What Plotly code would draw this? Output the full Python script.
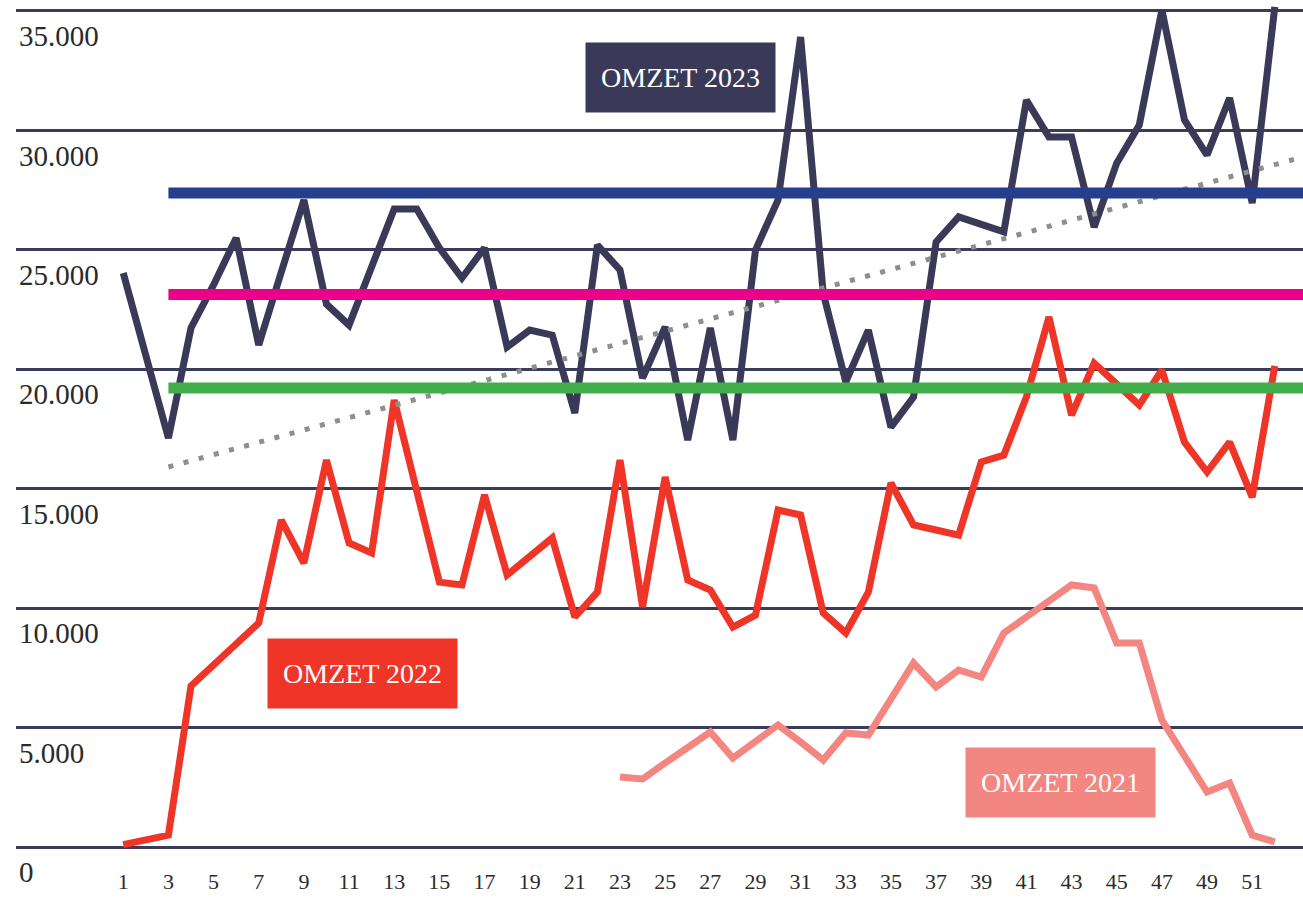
import plotly.graph_objects as go

# ---------------- data ----------------
weeks = list(range(1, 53))
week_ticks = list(range(1, 52, 2))

omzet_2023 = [24030, 20600, 17120, 21730, 23530, 25500, 21020, 24070, 27090, 22730,
              21850, 24280, 26710, 26710, 25080, 23820, 25080, 20930, 21640, 21430,
              18170, 25200, 24160, 19630, 21770, 17040, 21730, 17040, 24990, 27090,
              33910, 23190, 19470, 21640, 17580, 18840, 25330, 26380, 26040, 25750,
              31270, 29720, 29720, 25950, 28630, 30230, 35040, 30440, 28970, 31360,
              26960, 35170]

omzet_2022 = [100, 300, 500, 6740, 7620, 8500, 9380, 13690, 11890, 16200,
              12730, 12310, 18710, 14900, 11090, 10970, 14740, 11390, 12180, 12940,
              9630, 10670, 16200, 10050, 15490, 11180, 10760, 9210, 9710, 14110,
              13900, 9800, 8960, 10670, 15240, 13480, 13270, 13060, 16120, 16410,
              18840, 22190, 18080, 20260, 19380, 18500, 19970, 16950, 15700, 16950,
              14650, 20140]

weeks_2021 = list(range(23, 53))
omzet_2021 = [2931, 2847, 3517, 4145, 4815, 3726, 4396, 5108, 4396, 3642,
              4773, 4689, 6196, 7703, 6699, 7410, 7117, 8959, 9629, 10299,
              10969, 10843, 8541, 8541, 5317, 3810, 2303, 2679, 502, 209]

X_MIN, X_MAX = -3.75, 53.25
ref_weeks = [3, X_MAX]
ref_blue = [27380, 27380]
ref_magenta = [23130, 23130]
ref_green = [19220, 19220]

trend_weeks = [3, X_MAX]
trend_values = [15910, 28890]

y_ticks = list(range(0, 35001, 5000))

# ---------------- styles ----------------
FONT = "Liberation Serif"
C_2023 = "#3a3a58"
C_2022 = "#ef3428"
C_2021 = "#f38680"
C_BLUE = "#253f8e"
C_MAG = "#ec008b"
C_GREEN = "#40ae49"
C_GRID = "#3b3c5a"

fig = go.Figure()

fig.add_trace(go.Scatter(x=weeks_2021, y=omzet_2021, mode="lines",
                         line=dict(color=C_2021, width=7), name="OMZET 2021"))
fig.add_trace(go.Scatter(x=weeks, y=omzet_2022, mode="lines",
                         line=dict(color=C_2022, width=7), name="OMZET 2022"))
fig.add_trace(go.Scatter(x=weeks, y=omzet_2023, mode="lines",
                         line=dict(color=C_2023, width=7), name="OMZET 2023"))
fig.add_trace(go.Scatter(x=trend_weeks, y=trend_values, mode="lines",
                         line=dict(color="#8e8e8e", width=5, dash="5px,10.7px"),
                         name="trend"))
fig.add_trace(go.Scatter(x=ref_weeks, y=ref_green, mode="lines",
                         line=dict(color=C_GREEN, width=11), name="green"))
fig.add_trace(go.Scatter(x=ref_weeks, y=ref_magenta, mode="lines",
                         line=dict(color=C_MAG, width=11), name="magenta"))
fig.add_trace(go.Scatter(x=ref_weeks, y=ref_blue, mode="lines",
                         line=dict(color=C_BLUE, width=11), name="blue"))

box_font = dict(family=FONT, size=28, color="white")
annotations = [
    dict(x=25.66, y=32216, text="OMZET 2023", bgcolor=C_2023),
    dict(x=11.61, y=7264, text="OMZET 2022", bgcolor=C_2022),
    dict(x=42.49, y=2700, text="OMZET 2021", bgcolor=C_2021),
]
for a in annotations:
    a.update(xref="x", yref="y", showarrow=False, width=189, height=69,
             borderpad=0, xanchor="center", yanchor="middle", font=box_font)

fig.update_layout(
    width=1303, height=899,
    margin=dict(l=16, r=0, t=0, b=40),
    paper_bgcolor="white", plot_bgcolor="white",
    showlegend=False,
    separators=",.",
    annotations=annotations,
    xaxis=dict(range=[X_MIN, X_MAX], tickvals=week_ticks, showgrid=False,
               zeroline=False, showline=False, ticks="", automargin=False,
               ticklabelstandoff=7,
               tickfont=dict(family=FONT, size=22, color="#2b2b2b")),
    yaxis=dict(range=[-502, 35460], tickvals=y_ticks, tickformat=",d",
               showgrid=True, gridcolor=C_GRID, gridwidth=2.5,
               zeroline=False, showline=False, ticks="", automargin=False,
               ticklabelposition="inside", ticklabelshift=25,
               ticklabeloverflow="allow",
               tickfont=dict(family=FONT, size=29, color="#2b2b2b")),
)

fig.write_html("out.html", config={"displayModeBar": False},
               post_script="document.body.style.margin='0';")
